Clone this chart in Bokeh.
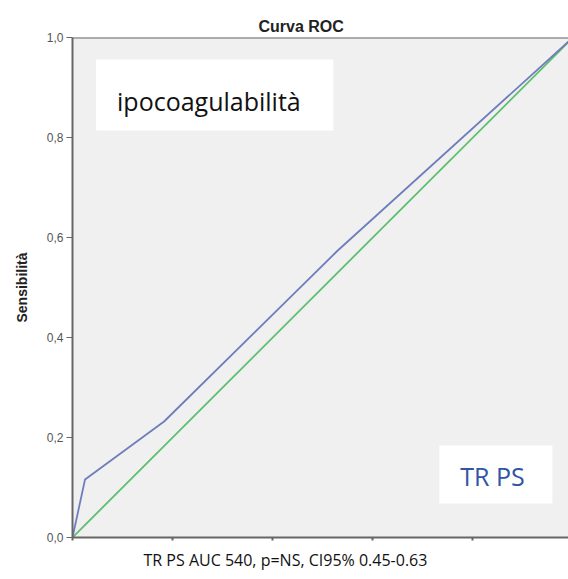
from bokeh.plotting import figure
from bokeh.models import Range1d, FixedTicker, Span, Label, BoxAnnotation, Title
from bokeh.embed import file_html
from bokeh.resources import INLINE

# ROC data
fpr = [0.0, 0.025, 0.183, 0.53, 1.0]
tpr = [0.0, 0.116, 0.232, 0.574, 1.0]
ref_x = [0.0, 1.0]
ref_y = [0.0, 1.0]
y_ticks = [0.0, 0.2, 0.4, 0.6, 0.8, 1.0]
y_tick_labels = ["0,0", "0,2", "0,4", "0,6", "0,8", "1,0"]
x_ticks = [0.0, 0.2, 0.4, 0.6, 0.8]

title_text = "Curva ROC"
y_label = "Sensibilità"
box_text_1 = "ipocoagulabilità"
box_text_2 = "TR PS"
footer_text = "TR PS AUC 540, p=NS, CI95% 0.45-0.63"

p = figure(width=568, height=579, output_backend="svg", toolbar_location=None,
           x_range=Range1d(0, 0.991), y_range=Range1d(0, 1.0),
           min_border_left=72, min_border_right=0, min_border_top=37, min_border_bottom=42)
p.background_fill_color = "#f0f0f0"
p.border_fill_color = "white"
p.outline_line_color = None
p.grid.visible = False

# title
p.title = Title(text=title_text, align="left", offset=186, text_font="Liberation Sans",
                text_font_style="bold", text_font_size="16px", text_color="#222222",
                standoff=6)

# axes
p.yaxis.ticker = FixedTicker(ticks=y_ticks)
p.yaxis.major_label_overrides = {t: l for t, l in zip(y_ticks, y_tick_labels)}
p.yaxis.axis_line_color = "#666666"
p.yaxis.axis_line_width = 2
p.yaxis.major_tick_line_color = "#666666"
p.yaxis.major_tick_out = 6
p.yaxis.major_tick_in = 0
p.yaxis.minor_tick_line_color = None
p.yaxis.major_label_text_font = "Liberation Sans"
p.yaxis.major_label_text_font_size = "12px"
p.yaxis.major_label_text_color = "#555555"
p.yaxis.major_label_standoff = 3
p.yaxis.axis_label = y_label
p.yaxis.axis_label_text_font = "Liberation Sans"
p.yaxis.axis_label_text_font_style = "bold"
p.yaxis.axis_label_text_font_size = "14px"
p.yaxis.axis_label_text_color = "#222222"
p.yaxis.axis_label_standoff = 14

p.xaxis.ticker = FixedTicker(ticks=x_ticks)
p.xaxis.major_label_overrides = {t: "" for t in x_ticks}
p.xaxis.major_label_text_font_size = "6px"
p.xaxis.major_label_standoff = 0
p.xaxis.axis_line_color = "#666666"
p.xaxis.axis_line_width = 2
p.xaxis.major_tick_line_color = "#666666"
p.xaxis.major_tick_line_width = 2
p.xaxis.major_tick_out = 3
p.xaxis.major_tick_in = 0
p.xaxis.minor_tick_line_color = None

p.add_layout(Title(text=footer_text, align="left", offset=71, text_font="Open Sans",
                   text_font_style="normal", text_font_size="16px", text_color="#111111",
                   standoff=12), "below")

p.add_layout(Span(location=1.0, dimension="width", line_color="#666666", line_width=2))

# lines
p.line(ref_x, ref_y, line_color="#5fbf6f", line_width=1.8)
p.line(fpr, tpr, line_color="#6e7ebd", line_width=1.8)

# white text boxes
p.add_layout(BoxAnnotation(left=0.047, right=0.521, top=0.956, bottom=0.814,
                           fill_color="white", fill_alpha=1.0, line_color=None))
p.add_layout(BoxAnnotation(left=0.733, right=0.959, top=0.184, bottom=0.068,
                           fill_color="white", fill_alpha=1.0, line_color=None))

p.add_layout(Label(x=0.089, y=0.874, text=box_text_1, text_font="Open Sans",
                   text_font_size="25px", text_color="#111111", text_baseline="alphabetic"))
p.add_layout(Label(x=0.839, y=0.124, text=box_text_2, text_font="Open Sans",
                   text_font_size="25px", text_color="#2f55a4", text_align="center",
                   text_baseline="middle"))

open("out.html", "w").write(file_html(p, INLINE))
